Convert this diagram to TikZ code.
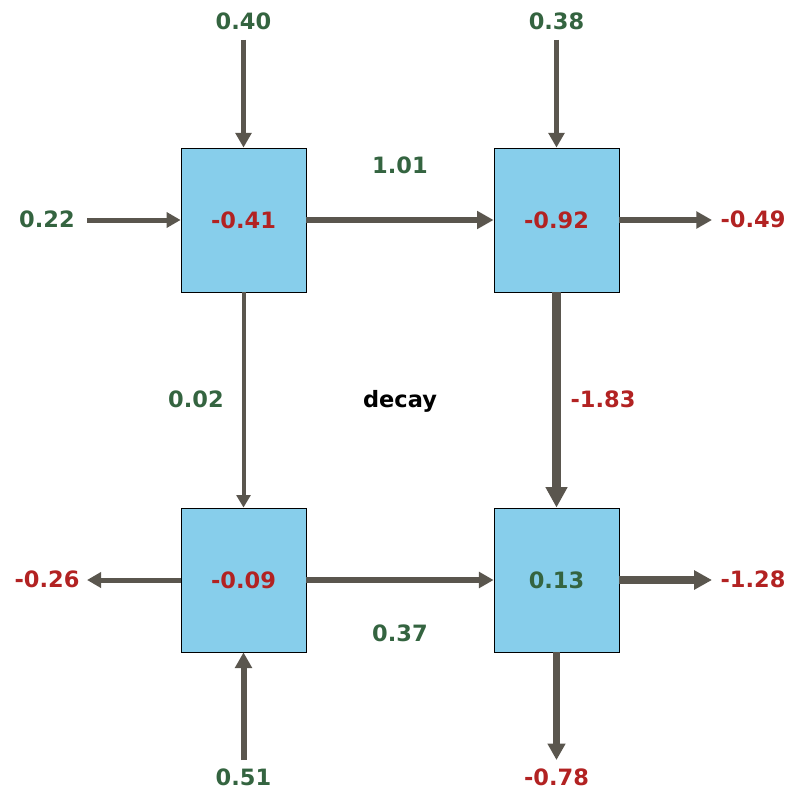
\documentclass[tikz,border=0pt]{standalone}
\usepackage{fontspec}
\setmainfont{DejaVu Sans}
\usetikzlibrary{arrows.meta}
\definecolor{boxblue}{HTML}{87CEEB}
\definecolor{posgreen}{RGB}{52,100,64}
\definecolor{negred}{RGB}{178,34,34}
\definecolor{flowgray}{RGB}{90,86,78}
\begin{document}
\begin{tikzpicture}[x=1pt,y=-1pt,
  txt/.style={font=\fontsize{22.5}{27}\selectfont\bfseries},
  cell/.style={txt,draw=black,line width=0.8pt,fill=boxblue,minimum width=125pt,minimum height=144pt,inner sep=0pt},
  lab/.style={txt,inner sep=0pt,text depth=0pt},
  posval/.style={text=posgreen},
  negval/.style={text=negred},
  flow/.style={draw=flowgray,line width=#1,-{Triangle[length=6pt 1.6,width=8pt 1.4]}}]
\useasboundingbox (0,0) rectangle (800,800);
% boxes
\node[cell,negval] (a) at (243.5,220) {-0.41};
\node[cell,negval] (b) at (556.5,220) {-0.92};
\node[cell,negval] (c) at (243.5,580) {-0.09};
\node[cell,posval] (d) at (556.5,580) {0.13};
% free ends
\coordinate (atop) at (243.5,40);
\coordinate (btop) at (556.5,40);
\coordinate (aleft) at (87,220);
\coordinate (bright) at (712,220);
\coordinate (cleft) at (87,580);
\coordinate (dright) at (712,580);
\coordinate (cbot) at (243.5,760);
\coordinate (dbot) at (556.5,760);
% flows
\draw[flow=5.5] (atop) -- (a);
\draw[flow=5.5] (btop) -- (b);
\draw[flow=5] (aleft) -- (a);
\draw[flow=6.5] (a) -- (b);
\draw[flow=6] (b) -- (bright);
\draw[flow=4] (a) -- (c);
\draw[flow=9] (b) -- (d);
\draw[flow=5] (c) -- (cleft);
\draw[flow=5.5] (c) -- (d);
\draw[flow=7.5] (d) -- (dright);
\draw[flow=6] (cbot) -- (c);
\draw[flow=6.5] (d) -- (dbot);
% labels
\node[lab,posval] (l1) at (243.5,21) {0.40};
\node[lab,posval] (l2) at (556.5,21) {0.38};
\node[lab,posval] (l3) at (47,219) {0.22};
\node[lab,posval] (l4) at (400,165) {1.01};
\node[lab,negval] (l5) at (753,219) {-0.49};
\node[lab,posval] (l6) at (196,399) {0.02};
\node[lab] (l7) at (400,399) {decay};
\node[lab,negval] (l8) at (603,399) {-1.83};
\node[lab,negval] (l9) at (47,579) {-0.26};
\node[lab,posval] (l10) at (400,633) {0.37};
\node[lab,negval] (l11) at (753,579) {-1.28};
\node[lab,posval] (l12) at (243.5,777) {0.51};
\node[lab,negval] (l13) at (556.5,777) {-0.78};
\end{tikzpicture}
\end{document}
